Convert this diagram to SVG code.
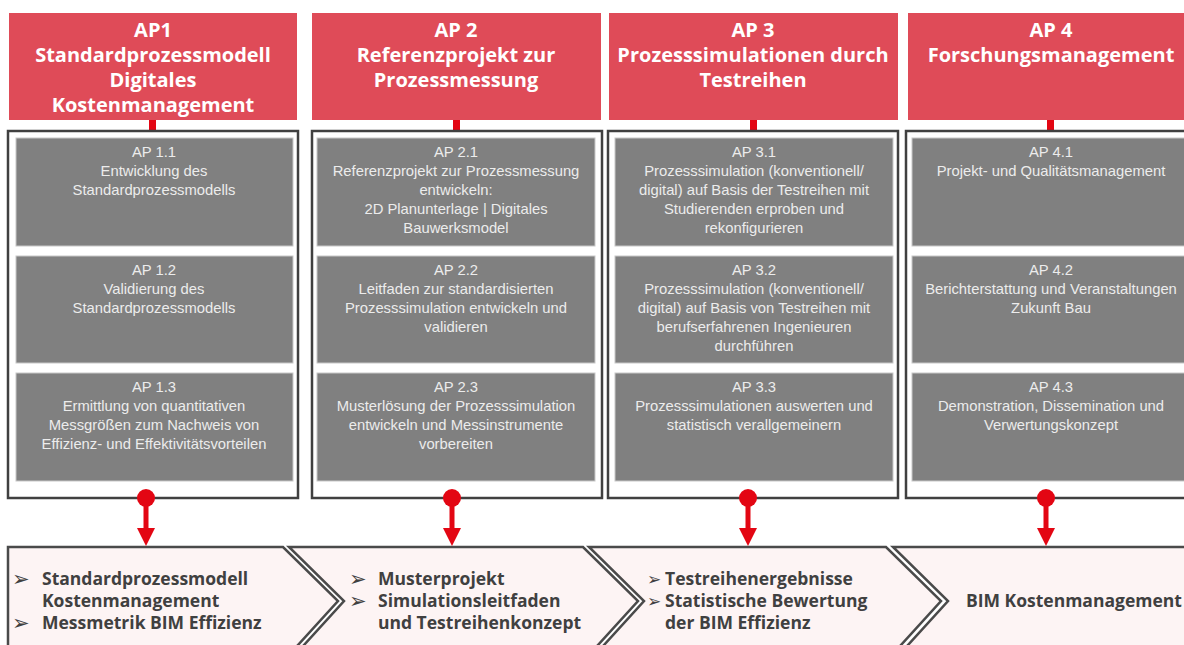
<svg xmlns="http://www.w3.org/2000/svg" width="1184" height="645" viewBox="0 0 1184 645">
<defs>
<style>
.hdr{fill:#df4b58}
.hdrt{fill:#ffffff;font-family:"Open Sans",Lato,"Liberation Sans",sans-serif;font-weight:700;font-size:20px;text-anchor:middle}
.stem{fill:#e30613}
.outer{fill:#ffffff;stroke:#404040;stroke-width:2.5}
.gbox{fill:#808080;stroke:#c8c8c8;stroke-width:1}
.gt{fill:#ececec;font-family:"Liberation Sans",Arial,sans-serif;font-size:14.8px;text-anchor:middle}
.chev{fill:#fdf4f4;stroke:#4a4a4a;stroke-width:2.5;stroke-linejoin:miter}
.bt{fill:#404040;font-family:"Open Sans",Lato,"Liberation Sans",sans-serif;font-weight:700;font-size:17.5px}
.bul{fill:#404040;font-family:"DejaVu Sans",sans-serif;font-size:21px}
.bul2{fill:#404040;font-family:"DejaVu Sans",sans-serif;font-size:17px}
.red{fill:#e30613}
</style>
</defs>
<rect width="1184" height="645" fill="#ffffff"/>

<g id="ap1">
<rect class="hdr" x="9" y="13" width="288" height="107"/>
<text class="hdrt" x="153" y="37">AP1</text>
<text class="hdrt" x="153" y="62">Standardprozessmodell</text>
<text class="hdrt" x="153" y="87">Digitales</text>
<text class="hdrt" x="153" y="112">Kostenmanagement</text>
<rect class="stem" x="149" y="120" width="7" height="11"/>
<rect class="outer" x="8" y="131" width="290" height="367"/>
<rect class="gbox" x="16" y="138" width="277" height="108"/>
<text class="gt" x="154" y="157">AP 1.1</text>
<text class="gt" x="154" y="176">Entwicklung des</text>
<text class="gt" x="154" y="195">Standardprozessmodells</text>
<rect class="gbox" x="16" y="256" width="277" height="107"/>
<text class="gt" x="154" y="275">AP 1.2</text>
<text class="gt" x="154" y="294">Validierung des</text>
<text class="gt" x="154" y="313">Standardprozessmodells</text>
<rect class="gbox" x="16" y="373" width="277" height="108"/>
<text class="gt" x="154" y="392">AP 1.3</text>
<text class="gt" x="154" y="411">Ermittlung von quantitativen</text>
<text class="gt" x="154" y="430">Messgrößen zum Nachweis von</text>
<text class="gt" x="154" y="449">Effizienz- und Effektivitätsvorteilen</text>
</g>

<g id="ap2">
<rect class="hdr" x="312" y="13" width="289" height="107"/>
<text class="hdrt" x="456" y="37">AP 2</text>
<text class="hdrt" x="456" y="62">Referenzprojekt zur</text>
<text class="hdrt" x="456" y="87">Prozessmessung</text>
<rect class="stem" x="453" y="120" width="7" height="11"/>
<rect class="outer" x="312" y="131" width="290" height="367"/>
<rect class="gbox" x="317" y="138" width="278" height="108"/>
<text class="gt" x="456" y="157">AP 2.1</text>
<text class="gt" x="456" y="176">Referenzprojekt zur Prozessmessung</text>
<text class="gt" x="456" y="195">entwickeln:</text>
<text class="gt" x="456" y="214">2D Planunterlage | Digitales</text>
<text class="gt" x="456" y="233">Bauwerksmodel</text>
<rect class="gbox" x="317" y="256" width="278" height="107"/>
<text class="gt" x="456" y="275">AP 2.2</text>
<text class="gt" x="456" y="294">Leitfaden zur standardisierten</text>
<text class="gt" x="456" y="313">Prozesssimulation entwickeln und</text>
<text class="gt" x="456" y="332">validieren</text>
<rect class="gbox" x="317" y="373" width="278" height="108"/>
<text class="gt" x="456" y="392">AP 2.3</text>
<text class="gt" x="456" y="411">Musterlösung der Prozesssimulation</text>
<text class="gt" x="456" y="430">entwickeln und Messinstrumente</text>
<text class="gt" x="456" y="449">vorbereiten</text>
</g>

<g id="ap3">
<rect class="hdr" x="609" y="13" width="289" height="107"/>
<text class="hdrt" x="753" y="37">AP 3</text>
<text class="hdrt" x="753" y="62">Prozesssimulationen durch</text>
<text class="hdrt" x="753" y="87">Testreihen</text>
<rect class="stem" x="750" y="120" width="7" height="11"/>
<rect class="outer" x="608" y="131" width="290" height="367"/>
<rect class="gbox" x="615" y="138" width="278" height="108"/>
<text class="gt" x="754" y="157">AP 3.1</text>
<text class="gt" x="754" y="176">Prozesssimulation (konventionell/</text>
<text class="gt" x="754" y="195">digital)  auf Basis der Testreihen mit</text>
<text class="gt" x="754" y="214">Studierenden erproben und</text>
<text class="gt" x="754" y="233">rekonfigurieren</text>
<rect class="gbox" x="615" y="256" width="278" height="107"/>
<text class="gt" x="754" y="275">AP 3.2</text>
<text class="gt" x="754" y="294">Prozesssimulation (konventionell/</text>
<text class="gt" x="754" y="313">digital) auf Basis von Testreihen mit</text>
<text class="gt" x="754" y="332">berufserfahrenen Ingenieuren</text>
<text class="gt" x="754" y="351">durchführen</text>
<rect class="gbox" x="615" y="373" width="278" height="108"/>
<text class="gt" x="754" y="392">AP 3.3</text>
<text class="gt" x="754" y="411">Prozesssimulationen auswerten und</text>
<text class="gt" x="754" y="430">statistisch verallgemeinern</text>
</g>

<g id="ap4">
<rect class="hdr" x="908" y="13" width="290" height="107"/>
<text class="hdrt" x="1051" y="37">AP 4</text>
<text class="hdrt" x="1051" y="62">Forschungsmanagement</text>
<rect class="stem" x="1047" y="120" width="7" height="11"/>
<rect class="outer" x="906" y="131" width="292" height="367"/>
<rect class="gbox" x="912" y="138" width="280" height="108"/>
<text class="gt" x="1051" y="157">AP 4.1</text>
<text class="gt" x="1051" y="176">Projekt- und Qualitätsmanagement</text>
<rect class="gbox" x="912" y="256" width="280" height="107"/>
<text class="gt" x="1051" y="275">AP 4.2</text>
<text class="gt" x="1051" y="294">Berichterstattung und Veranstaltungen</text>
<text class="gt" x="1051" y="313">Zukunft Bau</text>
<rect class="gbox" x="912" y="373" width="280" height="108"/>
<text class="gt" x="1051" y="392">AP 4.3</text>
<text class="gt" x="1051" y="411">Demonstration, Dissemination und</text>
<text class="gt" x="1051" y="430">Verwertungskonzept</text>
</g>

<g id="result1">
<path class="chev" d="M8,547 L283,547 L338,601 L288,656 L8,656 Z"/>
<text class="bul" x="12" y="586">➢</text>
<text class="bul" x="12" y="630">➢</text>
<text class="bt" x="42" y="585">Standardprozessmodell</text>
<text class="bt" x="42" y="607">Kostenmanagement</text>
<text class="bt" x="42" y="629">Messmetrik BIM Effizienz</text>
</g>

<g id="result2">
<path class="chev" d="M289,547 L583,547 L638,601 L588,656 L294,656 L344,601 Z"/>
<text class="bul" x="349" y="586">➢</text>
<text class="bul" x="349" y="608">➢</text>
<text class="bt" x="378" y="585">Musterprojekt</text>
<text class="bt" x="378" y="607">Simulationsleitfaden</text>
<text class="bt" x="378" y="629">und Testreihenkonzept</text>
</g>

<g id="result3">
<path class="chev" d="M589,547 L886,547 L941,601 L891,656 L594,656 L644,601 Z"/>
<text class="bul2" x="647" y="585">➢</text>
<text class="bul2" x="647" y="607">➢</text>
<text class="bt" x="665" y="585">Testreihenergebnisse</text>
<text class="bt" x="665" y="607">Statistische Bewertung</text>
<text class="bt" x="665" y="629">der BIM Effizienz</text>
</g>

<g id="result4">
<path class="chev" d="M893,547 L1200,547 L1200,656 L898,656 L948,601 Z"/>
<text class="bt" x="966" y="607">BIM Kostenmanagement</text>
</g>

<g id="connectors">
<g>
<circle class="red" cx="146" cy="498" r="9"/>
<rect class="red" x="143.5" y="498" width="5" height="32"/>
<path class="red" d="M137,528 L155,528 L146,546 Z"/>
</g>
<g>
<circle class="red" cx="452" cy="498" r="9"/>
<rect class="red" x="449.5" y="498" width="5" height="32"/>
<path class="red" d="M443,528 L461,528 L452,546 Z"/>
</g>
<g>
<circle class="red" cx="748" cy="498" r="9"/>
<rect class="red" x="745.5" y="498" width="5" height="32"/>
<path class="red" d="M739,528 L757,528 L748,546 Z"/>
</g>
<g>
<circle class="red" cx="1046" cy="498" r="9"/>
<rect class="red" x="1043.5" y="498" width="5" height="32"/>
<path class="red" d="M1037,528 L1055,528 L1046,546 Z"/>
</g>
</g>
</svg>
